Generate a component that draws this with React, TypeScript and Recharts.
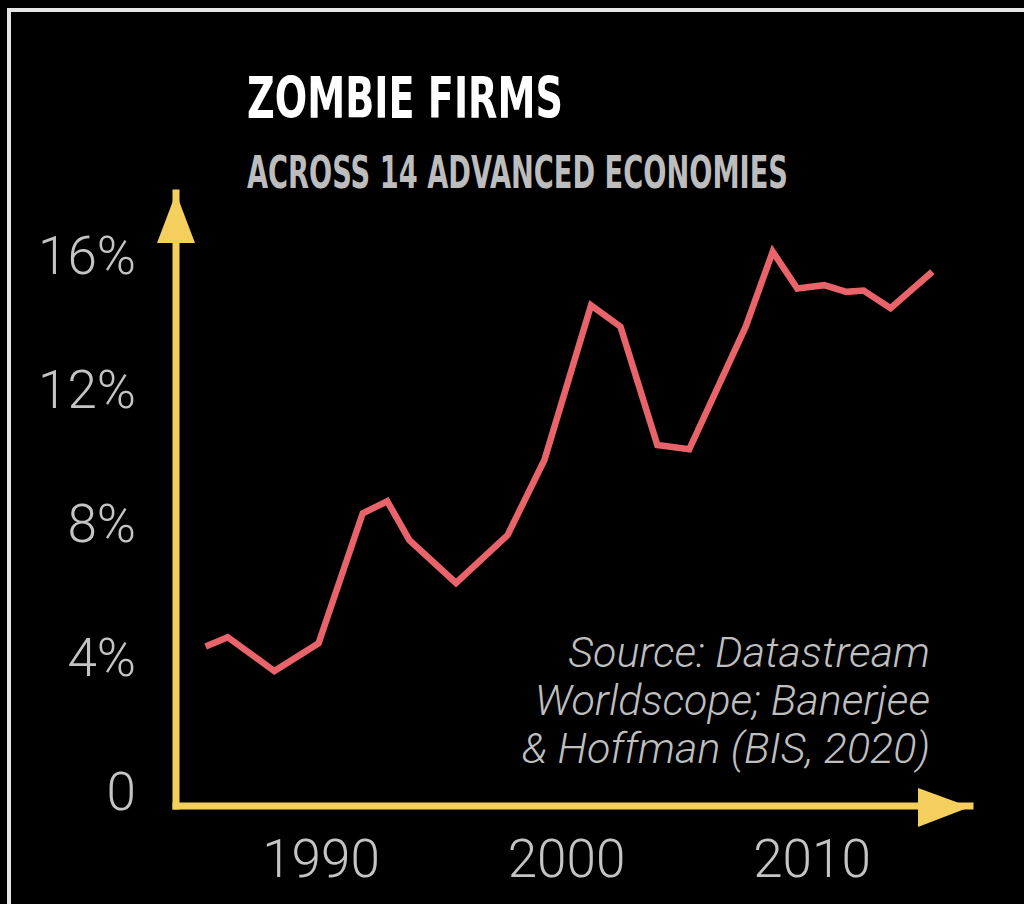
import React from 'react';
import { LineChart, Line, XAxis, YAxis } from 'recharts';

// Data (share of zombie firms, %)
const years = [
  1985.3, 1986.2, 1988.1, 1989.9, 1991.7, 1992.7, 1993.6, 1995.5, 1997.6, 1999.1,
  2001.0, 2002.2, 2003.7, 2005.0, 2007.3, 2008.4, 2009.4, 2010.5, 2011.4, 2012.1,
  2013.2, 2014.9,
];
const shares = [
  4.31, 4.59, 3.58, 4.41, 8.29, 8.65, 7.49, 6.21, 7.64, 9.88,
  14.5, 13.86, 10.33, 10.2, 13.86, 16.1, 15.0, 15.1, 14.9, 14.94,
  14.41, 15.5,
];
const yTicks = [0, 4, 8, 12, 16];
const xTicks = [1990, 2000, 2010];
const titleText = 'ZOMBIE FIRMS';
const subtitleText = 'ACROSS 14 ADVANCED ECONOMIES';
const sourceLines = ['Source: Datastream', 'Worldscope; Banerjee', '& Hoffman (BIS, 2020)'];

const data = years.map((year, i) => ({ year, share: shares[i] }));

const YELLOW = '#F4CF5D';
const RED = '#E8636A';
const TICK_GRAY = '#c4c4c4';
const TICK_FONT = 'Roboto, "Liberation Sans", Arial, sans-serif';
const CONDENSED = '"DejaVu Sans Condensed", "Liberation Sans Narrow", "Liberation Sans", sans-serif';

export default function App() {
  return (
    <div
      style={{
        position: 'absolute',
        left: 0,
        top: 0,
        width: 1024,
        height: 904,
        background: '#000',
        overflow: 'hidden',
      }}
    >
      <div
        style={{
          position: 'absolute',
          left: 7,
          top: 8,
          width: 1100,
          height: 1000,
          borderLeft: '4px solid #e6e6e6',
          borderTop: '4px solid #e6e6e6',
          boxSizing: 'border-box',
        }}
      />
      <div style={{ position: 'absolute', left: 0, top: 0 }}>
        <LineChart
          width={1024}
          height={904}
          data={data}
          margin={{ top: 193, right: 54, bottom: 0, left: 0 }}
        >
          <XAxis
            dataKey="year"
            type="number"
            domain={[1984.094, 2016.436]}
            allowDataOverflow
            ticks={xTicks}
            interval={0}
            height={98}
            axisLine={{ stroke: YELLOW, strokeWidth: 7, strokeLinecap: 'square' }}
            tickLine={false}
            tickSize={0}
            tickMargin={33}
            tick={{ fill: TICK_GRAY, fontSize: 53, fontFamily: TICK_FONT, fontWeight: 300 }}
          />
          <YAxis
            type="number"
            domain={[-0.448, 17.851]}
            allowDataOverflow
            ticks={yTicks}
            interval={0}
            width={176}
            axisLine={{ stroke: YELLOW, strokeWidth: 7, strokeLinecap: 'square' }}
            tickLine={false}
            tickSize={0}
            tickMargin={40}
            tickFormatter={(v: number) => (v === 0 ? '0' : `${v}%`)}
            tick={{ fill: TICK_GRAY, fontSize: 53, fontFamily: TICK_FONT, fontWeight: 300 }}
          />
          <Line
            type="linear"
            dataKey="share"
            stroke={RED}
            strokeWidth={6.5}
            dot={false}
            activeDot={false}
            isAnimationActive={false}
          />
        </LineChart>
      </div>
      <svg
        width={1024}
        height={904}
        style={{ position: 'absolute', left: 0, top: 0, pointerEvents: 'none' }}
      >
        <polygon points="176,193 157,243 195,243" fill={YELLOW} />
        <polygon points="970,807 918,788 918,827" fill={YELLOW} />
        <g transform="translate(247,118) scale(1,1.34)">
          <text
            x={0}
            y={0}
            textLength={316}
            lengthAdjust="spacingAndGlyphs"
            fill="#ffffff"
            fontSize={42}
            fontWeight="bold"
            fontFamily={CONDENSED}
          >
            {titleText}
          </text>
        </g>
        <g transform="translate(247,188) scale(1,1.5)">
          <text
            x={0}
            y={0}
            textLength={541}
            lengthAdjust="spacingAndGlyphs"
            fill="#bdbdbd"
            fontSize={30}
            fontWeight="bold"
            fontFamily={CONDENSED}
          >
            {subtitleText}
          </text>
        </g>
        {sourceLines.map((line, i) => (
          <text
            key={line}
            x={930}
            y={667 + i * 48}
            textAnchor="end"
            fill="#bfbfbf"
            fontSize={43}
            fontStyle="italic"
            fontWeight={300}
            fontFamily={TICK_FONT}
          >
            {line}
          </text>
        ))}
      </svg>
    </div>
  );
}
